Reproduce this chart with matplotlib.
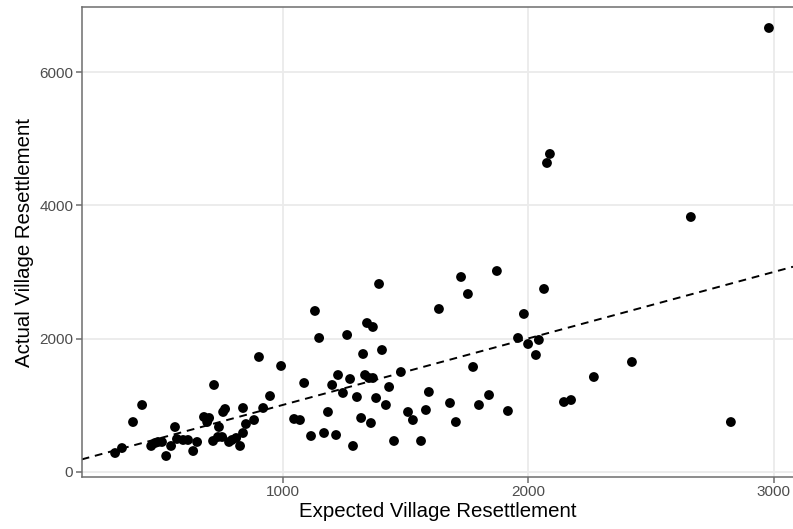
#!/usr/bin/env python
# -*- coding: utf-8 -*-

# Third-party imports
import matplotlib
matplotlib.use('Agg')
import matplotlib.pyplot as plt

# Constants
WIDTH, HEIGHT = 793, 529
DPI           = 100
FONT          = ['Liberation Sans', 'DejaVu Sans']
GRID_COLOR    = '#EBEBEB'
BORDER_COLOR  = '#6E6E6E'
TEXT_COLOR    = '#4D4D4D'

# Data
expected = [
    318, 346, 391, 428, 465, 481, 493, 509, 526, 546,
    562, 570, 595, 615, 636, 652, 680, 701, 693, 721,
    741, 717, 737, 754, 758, 766, 782, 794, 811, 827,
    839, 839, 851, 884, 904, 921, 949, 994, 1047, 1071,
    1088, 1116, 1132, 1149, 1393, 1263, 1344, 1368, 1328, 1405,
    1226, 1202, 1275, 1336, 1352, 1368, 1246, 1303, 1381, 1434,
    1482, 1421, 1185, 1320, 1360, 1169, 1218, 1287, 1454, 1564,
    1511, 1531, 1584, 1596, 1637, 1727, 1755, 1873, 1776, 1682,
    1706, 1800, 1841, 1918, 1959, 1983, 2000, 2032, 2044, 2065,
    2146, 2175, 2268, 2423, 2826, 2981, 2089, 2077, 2663,
]
actual = [
    278, 353, 744, 1000, 384, 429, 444, 444, 233, 384,
    669, 489, 474, 474, 308, 444, 820, 805, 744, 1301,
    669, 459, 519, 519, 895, 940, 444, 474, 504, 384,
    955, 579, 714, 774, 1722, 955, 1135, 1587, 790, 774,
    1331, 534, 2414, 2008, 2820, 2053, 2233, 2173, 1767, 1827,
    1451, 1301, 1391, 1451, 1406, 1406, 1181, 1120, 1105, 1271,
    1496, 1000, 895, 805, 729, 579, 549, 384, 459, 459,
    895, 774, 925, 1196, 2444, 2925, 2669, 3015, 1572, 1030,
    744, 1000, 1150, 910, 2008, 2369, 1917, 1752, 1978, 2745,
    1045, 1075, 1421, 1647, 744, 6669, 4775, 4639, 3827,
]
x_ticks = [1000, 2000, 3000]
y_ticks = [0, 2000, 4000, 6000]
x_label = 'Expected Village Resettlement'
y_label = 'Actual Village Resettlement'

plt.rcParams['font.family'] = FONT

fig = plt.figure(figsize=(WIDTH / DPI, HEIGHT / DPI), dpi=DPI)
ax  = fig.add_axes([81.7 / WIDTH, 52.3 / HEIGHT, 1 - 81.7 / WIDTH, 469.4 / HEIGHT])

# panel
ax.set_xlim(182, 3079)
ax.set_ylim(-78, 6980)
ax.set_xticks(x_ticks)
ax.set_yticks(y_ticks)
ax.grid(True, color=GRID_COLOR, linewidth=1.3, zorder=0)
ax.set_axisbelow(True)

for side, spine in ax.spines.items():
    spine.set_color(BORDER_COLOR)
    spine.set_linewidth(1.1)
ax.spines['right'].set_visible(False)

ax.tick_params(axis='both', colors=BORDER_COLOR, length=4, width=1.1,
               labelsize=11, labelcolor=TEXT_COLOR, pad=2)

# 45 degree reference line
ax.axline((0, 0), slope=1, color='black', linestyle=(0, (4, 3)),
          linewidth=1.4, zorder=2)

ax.scatter(expected, actual, s=50, color='black', edgecolors='none', zorder=3)

ax.set_xlabel(x_label, fontsize=14.7, color='black', labelpad=2)
ax.set_ylabel(y_label, fontsize=14.7, color='black', labelpad=4)

fig.savefig('out.png', dpi=DPI)
